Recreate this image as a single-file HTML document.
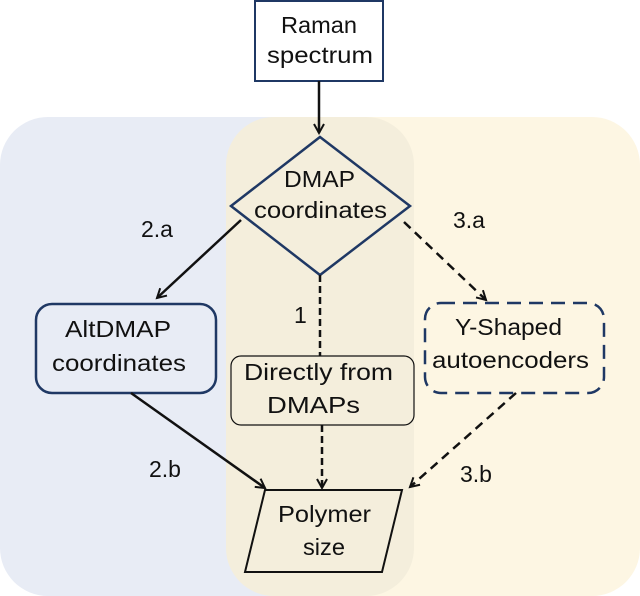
<!DOCTYPE html>
<html><head><meta charset="utf-8"><style>
html,body{margin:0;padding:0;background:#fff;}
svg{display:block;}
text{font-family:"Liberation Sans",sans-serif;font-size:23px;fill:#111;}
</style></head><body>
<svg width="640" height="596" viewBox="0 0 640 596" xmlns="http://www.w3.org/2000/svg">
<defs>
<marker id="a" markerWidth="12" markerHeight="12" refX="10" refY="6" orient="auto" markerUnits="userSpaceOnUse">
<path d="M1,1 L10,6 L1,11" fill="none" stroke="#111" stroke-width="2"/>
</marker>
</defs>
<rect x="0" y="117" width="340" height="479" rx="48" fill="#e8ecf5"/>
<rect x="300" y="117" width="340" height="479" rx="48" fill="#fdf6e3"/>
<rect x="300" y="117" width="40" height="479" fill="#fdf6e3"/>
<rect x="226" y="117" width="188" height="479" rx="48" fill="#f4eedc"/>
<rect x="255" y="1" width="128" height="80" fill="#fff" stroke="#1f3864" stroke-width="2"/>
<text x="281" y="33" textLength="76" lengthAdjust="spacingAndGlyphs">Raman</text>
<text x="267" y="63" textLength="106" lengthAdjust="spacingAndGlyphs">spectrum</text>
<line x1="319" y1="81" x2="319" y2="133" stroke="#111" stroke-width="2.5" marker-end="url(#a)"/>
<polygon points="320,137 410,206 320,275 231,206" fill="#f4eedc" stroke="#1f3864" stroke-width="2.5"/>
<text x="284" y="187" textLength="71" lengthAdjust="spacingAndGlyphs">DMAP</text>
<text x="254" y="218" textLength="133" lengthAdjust="spacingAndGlyphs">coordinates</text>
<rect x="36" y="304" width="180" height="89" rx="16" fill="#e8ecf5" stroke="#1f3864" stroke-width="2.5"/>
<text x="65" y="337" textLength="106" lengthAdjust="spacingAndGlyphs">AltDMAP</text>
<text x="52" y="371" textLength="134" lengthAdjust="spacingAndGlyphs">coordinates</text>
<rect x="425" y="303" width="179" height="90" rx="16" fill="#fdf6e3" stroke="#1f3864" stroke-width="2.5" stroke-dasharray="14,8"/>
<text x="455" y="335" textLength="107" lengthAdjust="spacingAndGlyphs">Y-Shaped</text>
<text x="432" y="368" textLength="157" lengthAdjust="spacingAndGlyphs">autoencoders</text>
<rect x="231" y="356" width="183" height="69" rx="10" fill="#f4eedc" stroke="#111" stroke-width="1.2"/>
<text x="244" y="380" textLength="149" lengthAdjust="spacingAndGlyphs">Directly from</text>
<text x="267" y="413" textLength="93" lengthAdjust="spacingAndGlyphs">DMAPs</text>
<polygon points="265,490 402,490 382,572 245,572" fill="#f4eedc" stroke="#111" stroke-width="2"/>
<text x="278" y="522" textLength="93" lengthAdjust="spacingAndGlyphs">Polymer</text>
<text x="303" y="555" textLength="42" lengthAdjust="spacingAndGlyphs">size</text>
<line x1="241" y1="220" x2="157" y2="298" stroke="#111" stroke-width="2.5" marker-end="url(#a)"/>
<line x1="404" y1="222" x2="486" y2="300" stroke="#111" stroke-width="2.5" stroke-dasharray="9,6" marker-end="url(#a)"/>
<line x1="320" y1="275" x2="320" y2="356" stroke="#111" stroke-width="2.5" stroke-dasharray="7,4"/>
<line x1="131" y1="393" x2="265" y2="488" stroke="#111" stroke-width="2.5" marker-end="url(#a)"/>
<line x1="322" y1="425" x2="322" y2="488" stroke="#111" stroke-width="2.5" stroke-dasharray="7,4" marker-end="url(#a)"/>
<line x1="516" y1="393" x2="410" y2="487" stroke="#111" stroke-width="2.5" stroke-dasharray="9,6" marker-end="url(#a)"/>
<text x="141" y="237">2.a</text>
<text x="453" y="228">3.a</text>
<text x="294" y="323">1</text>
<text x="149" y="477">2.b</text>
<text x="460" y="482">3.b</text>
</svg>
</body></html>
